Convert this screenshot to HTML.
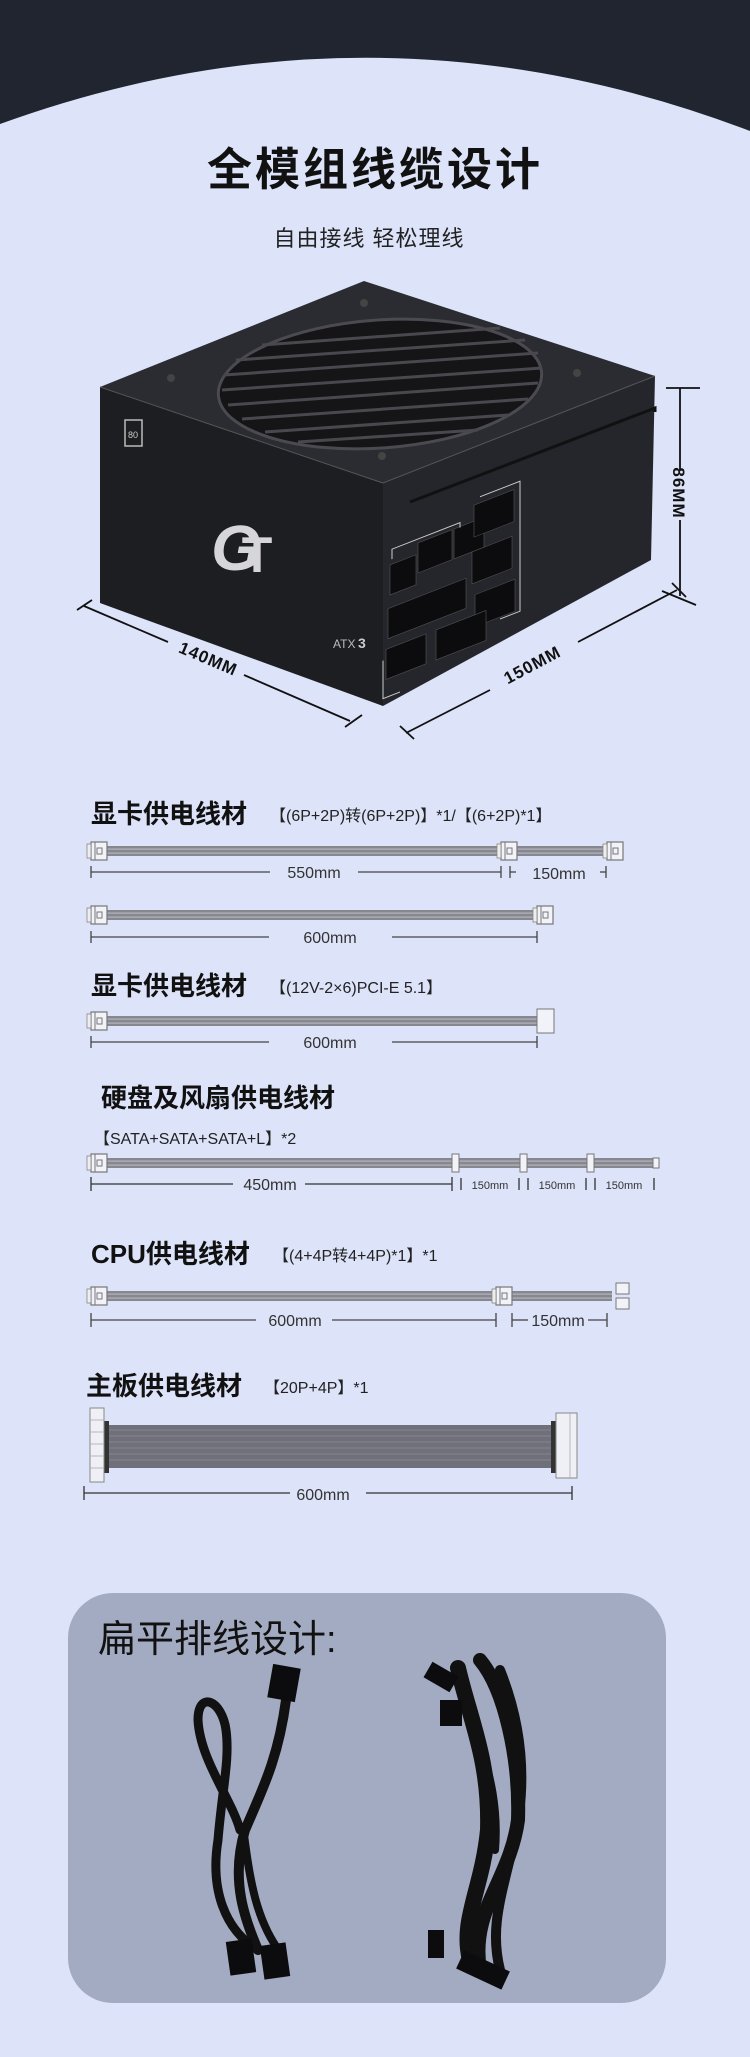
<!DOCTYPE html>
<html><head><meta charset="utf-8"><style>
html,body{margin:0;padding:0;background:#dde3f8;}
svg{display:block}
text{font-family:"Liberation Sans","Noto Sans CJK SC",sans-serif;}
</style></head><body>
<svg width="750" height="2057" viewBox="0 0 750 2057" xmlns="http://www.w3.org/2000/svg">
<defs>
<g id="conn"><rect x="0" y="-9" width="16" height="18" fill="#f2f3f8" stroke="#777" stroke-width="1.2"/><line x1="4" y1="-9" x2="4" y2="9" stroke="#777"/><rect x="-4" y="-7" width="4" height="14" fill="#eee" stroke="#888" stroke-width="0.8"/><rect x="6" y="-3" width="5" height="6" fill="none" stroke="#777"/></g>
<g id="band"><rect x="0" y="-5" width="1" height="10" fill="#86878f"/><rect x="0" y="-2.5" width="1" height="1.2" fill="#b4b5bd"/><rect x="0" y="1.5" width="1" height="1.2" fill="#b4b5bd"/></g>
</defs>
<rect width="750" height="2057" fill="#dde3f8"/>
<path d="M0,0 H750 V131 Q375,-12 0,124 Z" fill="#21252f"/>
<text x="375" y="185" text-anchor="middle" font-size="45" font-weight="bold" fill="#111" letter-spacing="3">全模组线缆设计</text>
<text x="369" y="246" text-anchor="middle" font-size="22" fill="#222" letter-spacing="1">自由接线 轻松理线</text>

<!-- PSU -->
<polygon points="364,281 100,387 383,483 655,376" fill="#2b2c31"/>
<polygon points="100,387 383,483 383,706 100,603" fill="#1d1e22"/>
<polygon points="383,483 655,376 651,560 383,706" fill="#25262b"/>
<polyline points="100,387 383,483 655,376" fill="none" stroke="#555" stroke-width="1"/>
<ellipse cx="380" cy="384" rx="162" ry="64" transform="rotate(-4 380 384)" fill="#151517" stroke="#4a4a50" stroke-width="3"/>
<g stroke="#48484e" stroke-width="3">
<line x1="262" y1="345" x2="500" y2="328"/><line x1="236" y1="360" x2="525" y2="340"/><line x1="224" y1="375" x2="538" y2="353"/><line x1="222" y1="390" x2="542" y2="368"/><line x1="228" y1="405" x2="538" y2="383"/><line x1="242" y1="419" x2="528" y2="399"/><line x1="265" y1="432" x2="508" y2="415"/><line x1="298" y1="442" x2="478" y2="430"/>
</g>
<g fill="#444"><circle cx="171" cy="378" r="4"/><circle cx="382" cy="456" r="4"/><circle cx="577" cy="373" r="4"/><circle cx="364" cy="303" r="4"/></g>
<rect x="125" y="420" width="17" height="26" fill="none" stroke="#bbb" stroke-width="1.5"/>
<text x="133" y="438" text-anchor="middle" font-size="9" fill="#ccc">80</text>
<text x="236" y="570" text-anchor="middle" font-size="64" font-weight="bold" fill="#d6d6da" font-style="italic">G</text>
<text x="257" y="572" text-anchor="middle" font-size="50" font-weight="bold" fill="#d6d6da">T</text>
<text x="333" y="648" font-size="12" fill="#bbb">ATX</text><text x="358" y="648" font-size="14" font-weight="bold" fill="#ccc">3</text>
<polyline points="410,502 655,408 655,412" fill="none" stroke="#111" stroke-width="3"/>
<g transform="matrix(1,-0.39,0,1,0,0)">
<g fill="#0c0c0e" stroke="#555" stroke-width="0.6">
<rect x="390" y="717" width="26" height="30"/><rect x="418" y="706" width="34" height="30"/><rect x="454" y="706" width="30" height="30"/>
<rect x="474" y="690" width="40" height="32"/><rect x="472" y="736" width="40" height="32"/>
<rect x="388" y="760" width="78" height="30"/><rect x="475" y="780" width="40" height="32"/>
<rect x="386" y="800" width="40" height="30"/><rect x="436" y="800" width="50" height="30"/>
</g>
<g stroke="#ccc" fill="none" stroke-width="1"><polyline points="392,712 392,702 460,702 460,707"/><polyline points="480,684 520,684 520,814 500,814"/><polyline points="383,810 383,848 400,848"/></g>
</g>
<!-- dimensions -->
<g stroke="#111" stroke-width="1.8" fill="none">
<line x1="666" y1="388" x2="700" y2="388"/><line x1="662" y1="591" x2="696" y2="605"/>
<line x1="680" y1="388" x2="680" y2="470"/><line x1="680" y1="520" x2="680" y2="596"/>
<line x1="77" y1="610" x2="92" y2="600"/><line x1="84" y1="606" x2="168" y2="642"/><line x1="244" y1="675" x2="350" y2="721"/><line x1="345" y1="727" x2="362" y2="715"/>
<line x1="400" y1="726" x2="414" y2="739"/><line x1="406" y1="733" x2="490" y2="690"/><line x1="578" y1="642" x2="677" y2="590"/><line x1="672" y1="583" x2="686" y2="597"/>
</g>
<text transform="translate(673,493) rotate(90)" text-anchor="middle" font-size="17" font-weight="bold" fill="#111" letter-spacing="1">86MM</text>
<text transform="translate(206,664) rotate(23)" text-anchor="middle" font-size="17" font-weight="bold" fill="#111" letter-spacing="1">140MM</text>
<text transform="translate(535,670) rotate(-28)" text-anchor="middle" font-size="17" font-weight="bold" fill="#111" letter-spacing="1">150MM</text>

<!-- Section 1 -->
<text x="91" y="823" font-size="26" font-weight="bold" fill="#111">显卡供电线材</text>
<text x="270" y="821" font-size="16" fill="#222">【(6P+2P)转(6P+2P)】*1/【(6+2P)*1】</text>
<use href="#band" transform="translate(107,851) scale(393,1)"/>
<use href="#band" transform="translate(517,851) scale(90,1)"/>
<use href="#conn" transform="translate(91,851)"/><use href="#conn" transform="translate(501,851)"/><use href="#conn" transform="translate(607,851)"/>
<g stroke="#444" stroke-width="1.3"><line x1="91" y1="872" x2="270" y2="872"/><line x1="358" y1="872" x2="501" y2="872"/><line x1="91" y1="866" x2="91" y2="878"/><line x1="501" y1="866" x2="501" y2="878"/><line x1="510" y1="866" x2="510" y2="878"/><line x1="510" y1="872" x2="516" y2="872"/><line x1="606" y1="866" x2="606" y2="878"/><line x1="600" y1="872" x2="606" y2="872"/></g>
<text x="314" y="878" text-anchor="middle" font-size="16" fill="#333">550mm</text>
<text x="559" y="879" text-anchor="middle" font-size="16" fill="#333">150mm</text>

<use href="#band" transform="translate(107,915) scale(430,1)"/>
<use href="#conn" transform="translate(91,915)"/><use href="#conn" transform="translate(537,915)"/>
<g stroke="#444" stroke-width="1.3"><line x1="91" y1="937" x2="269" y2="937"/><line x1="392" y1="937" x2="537" y2="937"/><line x1="91" y1="931" x2="91" y2="943"/><line x1="537" y1="931" x2="537" y2="943"/></g>
<text x="330" y="943" text-anchor="middle" font-size="16" fill="#333">600mm</text>

<text x="91" y="995" font-size="26" font-weight="bold" fill="#111">显卡供电线材</text>
<text x="270" y="993" font-size="16" fill="#222">【(12V-2×6)PCI-E 5.1】</text>
<use href="#band" transform="translate(107,1021) scale(430,1)"/>
<use href="#conn" transform="translate(91,1021)"/>
<rect x="537" y="1009" width="17" height="24" fill="#f2f3f8" stroke="#777"/>
<g stroke="#444" stroke-width="1.3"><line x1="91" y1="1042" x2="269" y2="1042"/><line x1="392" y1="1042" x2="537" y2="1042"/><line x1="91" y1="1036" x2="91" y2="1048"/><line x1="537" y1="1036" x2="537" y2="1048"/></g>
<text x="330" y="1048" text-anchor="middle" font-size="16" fill="#333">600mm</text>

<text x="101" y="1107" font-size="26" font-weight="bold" fill="#111">硬盘及风扇供电线材</text>
<text x="94" y="1144" font-size="16" fill="#222">【SATA+SATA+SATA+L】*2</text>
<use href="#band" transform="translate(107,1163) scale(550,1)"/>
<use href="#conn" transform="translate(91,1163)"/>
<g fill="#f2f3f8" stroke="#777"><rect x="452" y="1154" width="7" height="18"/><rect x="520" y="1154" width="7" height="18"/><rect x="587" y="1154" width="7" height="18"/><rect x="653" y="1158" width="6" height="10"/></g>
<g stroke="#333" stroke-width="1.3"><line x1="91" y1="1184" x2="233" y2="1184"/><line x1="305" y1="1184" x2="452" y2="1184"/><line x1="91" y1="1177" x2="91" y2="1191"/><line x1="452" y1="1177" x2="452" y2="1191"/>
<line x1="461" y1="1178" x2="461" y2="1190"/><line x1="519" y1="1178" x2="519" y2="1190"/><line x1="528" y1="1178" x2="528" y2="1190"/><line x1="586" y1="1178" x2="586" y2="1190"/><line x1="595" y1="1178" x2="595" y2="1190"/><line x1="654" y1="1178" x2="654" y2="1190"/></g>
<text x="270" y="1190" text-anchor="middle" font-size="16" fill="#333">450mm</text>
<g font-size="11" fill="#333" text-anchor="middle"><text x="490" y="1189">150mm</text><text x="557" y="1189">150mm</text><text x="624" y="1189">150mm</text></g>

<text x="91" y="1263" font-size="26" font-weight="bold" fill="#111">CPU供电线材</text>
<text x="273" y="1261" font-size="16" fill="#222">【(4+4P转4+4P)*1】*1</text>
<use href="#band" transform="translate(107,1296) scale(390,1)"/>
<use href="#band" transform="translate(512,1296) scale(100,1)"/>
<use href="#conn" transform="translate(91,1296)"/><use href="#conn" transform="translate(496,1296)"/>
<g fill="#f2f3f8" stroke="#777"><rect x="616" y="1283" width="13" height="11"/><rect x="616" y="1298" width="13" height="11"/></g>
<g stroke="#444" stroke-width="1.3"><line x1="91" y1="1320" x2="256" y2="1320"/><line x1="332" y1="1320" x2="496" y2="1320"/><line x1="91" y1="1313" x2="91" y2="1327"/><line x1="496" y1="1313" x2="496" y2="1327"/><line x1="512" y1="1313" x2="512" y2="1327"/><line x1="512" y1="1320" x2="528" y2="1320"/><line x1="588" y1="1320" x2="607" y2="1320"/><line x1="607" y1="1313" x2="607" y2="1327"/></g>
<text x="295" y="1326" text-anchor="middle" font-size="16" fill="#333">600mm</text>
<text x="558" y="1326" text-anchor="middle" font-size="16" fill="#333">150mm</text>

<text x="86" y="1395" font-size="26" font-weight="bold" fill="#111">主板供电线材</text>
<text x="264" y="1393" font-size="16" fill="#222">【20P+4P】*1</text>
<rect x="108" y="1425" width="445" height="43" fill="#6f7079"/>
<g stroke="#8a8b94" stroke-width="0.8"><line x1="108" y1="1430" x2="553" y2="1430"/><line x1="108" y1="1436" x2="553" y2="1436"/><line x1="108" y1="1442" x2="553" y2="1442"/><line x1="108" y1="1448" x2="553" y2="1448"/><line x1="108" y1="1454" x2="553" y2="1454"/><line x1="108" y1="1460" x2="553" y2="1460"/></g>
<rect x="104" y="1421" width="5" height="52" fill="#333"/><rect x="551" y="1421" width="5" height="52" fill="#333"/>
<rect x="90" y="1408" width="14" height="74" fill="#eef0f6" stroke="#888"/>
<rect x="556" y="1413" width="21" height="65" fill="#eef0f6" stroke="#888"/>
<g stroke="#aaa" stroke-width="0.8"><line x1="90" y1="1420" x2="104" y2="1420"/><line x1="90" y1="1432" x2="104" y2="1432"/><line x1="90" y1="1444" x2="104" y2="1444"/><line x1="90" y1="1456" x2="104" y2="1456"/><line x1="90" y1="1468" x2="104" y2="1468"/><line x1="570" y1="1413" x2="570" y2="1478"/></g>
<g stroke="#333" stroke-width="1.3"><line x1="84" y1="1493" x2="290" y2="1493"/><line x1="366" y1="1493" x2="572" y2="1493"/><line x1="84" y1="1486" x2="84" y2="1500"/><line x1="572" y1="1486" x2="572" y2="1500"/></g>
<text x="323" y="1500" text-anchor="middle" font-size="16" fill="#333">600mm</text>

<!-- Panel -->
<rect x="68" y="1593" width="598" height="410" rx="45" fill="#a3abc3"/>
<text x="98" y="1652" font-size="38" fill="#111">扁平排线设计:</text>
<g fill="none" stroke="#111" stroke-linecap="round">
<path d="M286,1700 C278,1760 262,1790 245,1830 C230,1880 245,1920 258,1950" stroke-width="10"/>
<path d="M258,1950 C225,1930 210,1890 218,1840 C222,1790 230,1760 226,1730 C222,1700 198,1690 198,1720 C200,1760 232,1800 240,1830" stroke-width="9"/>
<path d="M244,1835 C250,1880 256,1920 280,1952" stroke-width="8"/>
<path d="M458,1668 C470,1720 490,1760 488,1830 C482,1890 460,1920 470,1960" stroke-width="16"/>
<path d="M480,1660 C505,1690 520,1760 518,1820 C510,1880 470,1910 480,1970" stroke-width="14"/>
<path d="M500,1670 C520,1720 530,1780 512,1850 C500,1900 490,1930 500,1970" stroke-width="10"/>
<path d="M470,1700 C480,1750 500,1790 495,1850" stroke-width="8"/>
</g>
<g fill="#0c0c0e">
<rect x="270" y="1666" width="28" height="34" transform="rotate(10 284 1683)"/>
<rect x="228" y="1940" width="26" height="34" transform="rotate(-8 241 1957)"/>
<rect x="262" y="1944" width="26" height="34" transform="rotate(-8 275 1961)"/>
<rect x="426" y="1668" width="30" height="18" transform="rotate(30 441 1677)"/>
<rect x="440" y="1700" width="22" height="26"/>
<rect x="458" y="1960" width="50" height="20" transform="rotate(25 483 1970)"/>
<rect x="428" y="1930" width="16" height="28"/>
</g>
</svg>
</body></html>
